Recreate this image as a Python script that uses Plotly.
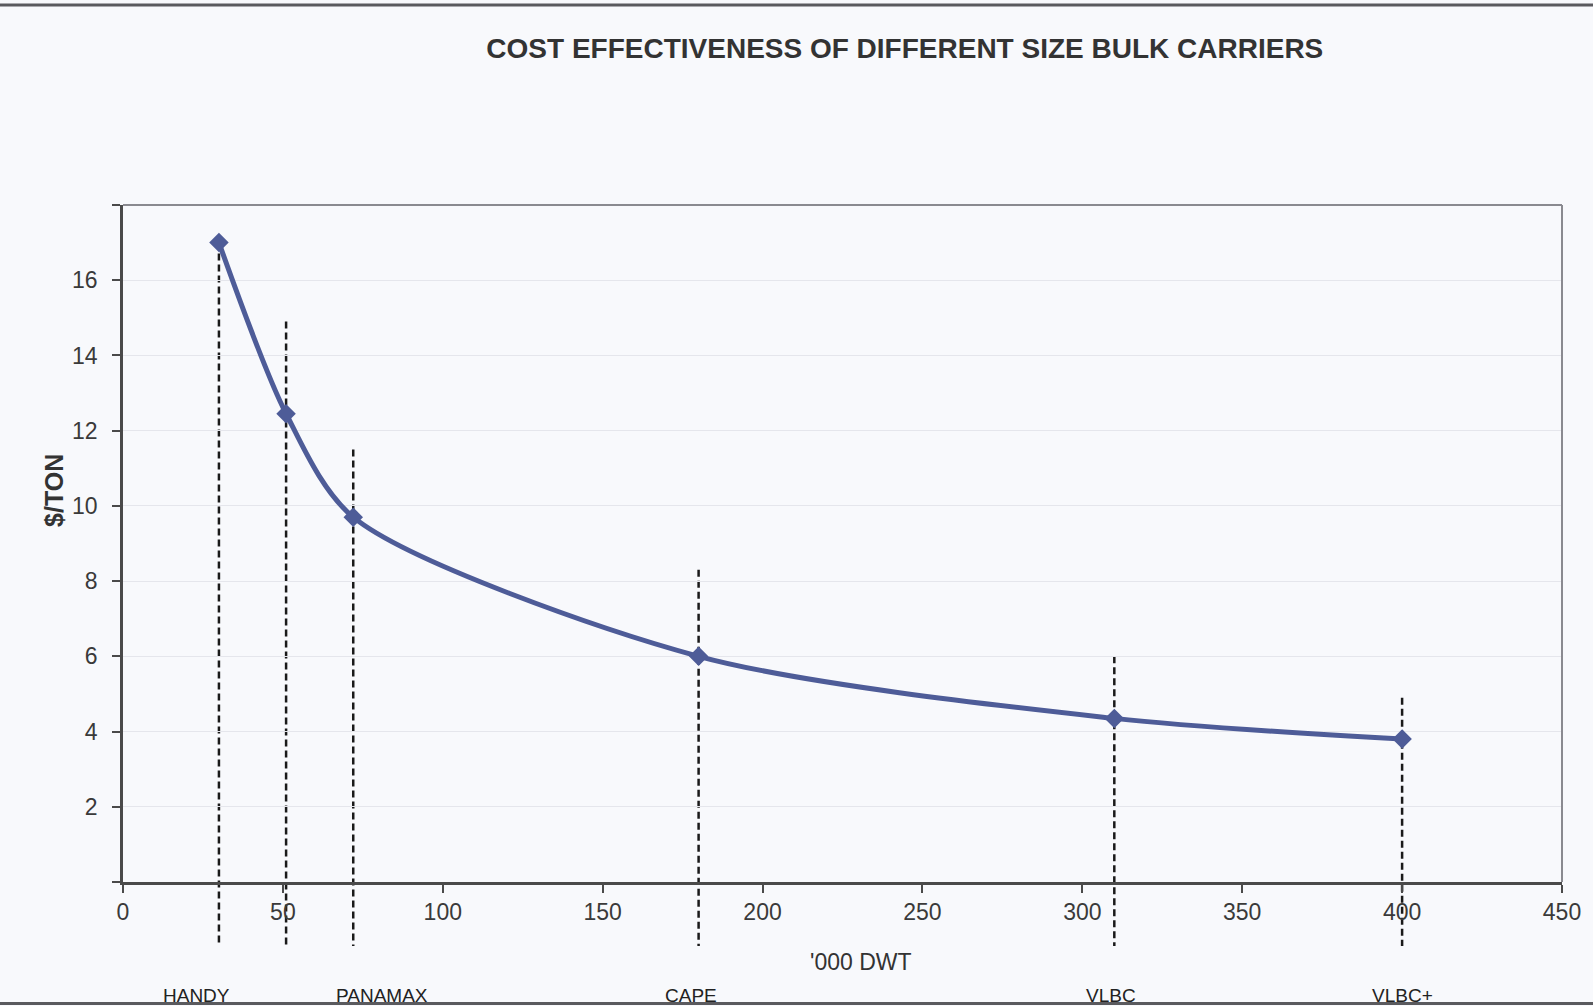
import plotly.graph_objects as go

# Ship size ('000 DWT) and unit cost ($/ton) for each bulk carrier class
dwt = [30, 51, 72, 180, 310, 400]
cost_per_ton = [17.0, 12.45, 9.7, 6.0, 4.35, 3.8]

# Dashed guide lines at each size, top end in $/ton
guide_top = [17.0, 14.9, 11.5, 8.3, 6.0, 4.9]
guide_bottom = -1.7

# Class names written under the axis, with their x positions ('000 DWT)
class_names = ["HANDY", "PANAMAX", "CAPE", "VLBC", "VLBC+"]
class_pos = [23, 81, 177.5, 309, 400]

x_ticks = [0, 50, 100, 150, 200, 250, 300, 350, 400, 450]
y_ticks = [0, 2, 4, 6, 8, 10, 12, 14, 16, 18]
y_tick_text = ["", "2", "4", "6", "8", "10", "12", "14", "16", ""]

X_RANGE = [0, 450]
Y_RANGE = [0, 18]

BG = "#f8f9fc"
LINE = "#4e5c98"
AXIS = "#4a4a4a"
FONT = "Liberation Sans, Arial, sans-serif"

fig = go.Figure()

fig.add_trace(go.Scatter(
    x=dwt, y=cost_per_ton,
    mode="lines+markers",
    line=dict(color=LINE, width=5, shape="spline", smoothing=0.8),
    marker=dict(symbol="diamond", size=15, color=LINE),
    cliponaxis=False,
    showlegend=False,
))

shapes = []
# vertical dashed guides, running from the curve down past the axis
for xv, top in zip(dwt, guide_top):
    shapes.append(dict(
        type="line", xref="x", yref="paper",
        x0=xv, x1=xv,
        y0=top / Y_RANGE[1], y1=guide_bottom / Y_RANGE[1],
        line=dict(color="#1a1a1a", width=2.5, dash="7px,4px"),
        layer="below",
    ))

# top and right frame of the plot area
shapes.append(dict(type="line", xref="paper", yref="paper", x0=0, x1=1, y0=1, y1=1,
                   line=dict(color="#8a8a90", width=2)))
shapes.append(dict(type="line", xref="paper", yref="paper", x0=1, x1=1, y0=0, y1=1,
                   line=dict(color="#8a8a90", width=2)))
# page rules above and below the chart
shapes.append(dict(type="line", xref="paper", yref="paper", x0=-0.09, x1=1.03,
                   y0=1.2954, y1=1.2954, line=dict(color="#5a5a5e", width=3)))
shapes.append(dict(type="line", xref="paper", yref="paper", x0=-0.09, x1=1.03,
                   y0=-0.1795, y1=-0.1795, line=dict(color="#5a5a5e", width=3)))

annotations = []
for name, xp in zip(class_names, class_pos):
    annotations.append(dict(
        text=name, x=xp, xref="x", y=-0.168, yref="paper",
        showarrow=False, xanchor="center", yanchor="middle",
        font=dict(family=FONT, size=19, color="#222"),
    ))
annotations.append(dict(
    text="'000 DWT", x=0.513, xref="paper", y=-0.118, yref="paper",
    showarrow=False, xanchor="center", yanchor="middle",
    font=dict(family=FONT, size=23, color="#333"),
))
annotations.append(dict(
    text="<b>$/TON</b>", x=-0.0485, xref="paper", y=0.578, yref="paper",
    showarrow=False, xanchor="center", yanchor="middle", textangle=-90,
    font=dict(family=FONT, size=25, color="#333"),
))

fig.update_layout(
    width=1593, height=1006,
    margin=dict(l=123, r=28, t=205, b=124),
    paper_bgcolor=BG, plot_bgcolor=BG,
    title=dict(
        text="<b>COST EFFECTIVENESS OF DIFFERENT SIZE BULK CARRIERS</b>",
        x=0.568, xref="container", xanchor="center",
        y=1 - 48 / 1006, yref="container", yanchor="middle",
        font=dict(family=FONT, size=28, color="#333"),
    ),
    shapes=shapes,
    annotations=annotations,
    showlegend=False,
)

fig.update_xaxes(
    range=X_RANGE, tickvals=x_ticks, ticktext=[str(v) for v in x_ticks],
    ticks="outside", ticklen=8, tickwidth=1.5, tickcolor=AXIS,
    showline=True, linecolor=AXIS, linewidth=2.5,
    showgrid=False, zeroline=False,
    tickfont=dict(family=FONT, size=23, color="#3a3a3a"),
)
fig.update_yaxes(
    range=Y_RANGE, tickvals=y_ticks, ticktext=y_tick_text,
    ticks="outside", ticklen=8, tickwidth=1.5, tickcolor=AXIS,
    ticklabelstandoff=10,
    showline=True, linecolor=AXIS, linewidth=2.5,
    showgrid=True, gridcolor="#e5e6ec", gridwidth=1.2, zeroline=False,
    tickfont=dict(family=FONT, size=23, color="#3a3a3a"),
)

fig.write_html("out.html")
